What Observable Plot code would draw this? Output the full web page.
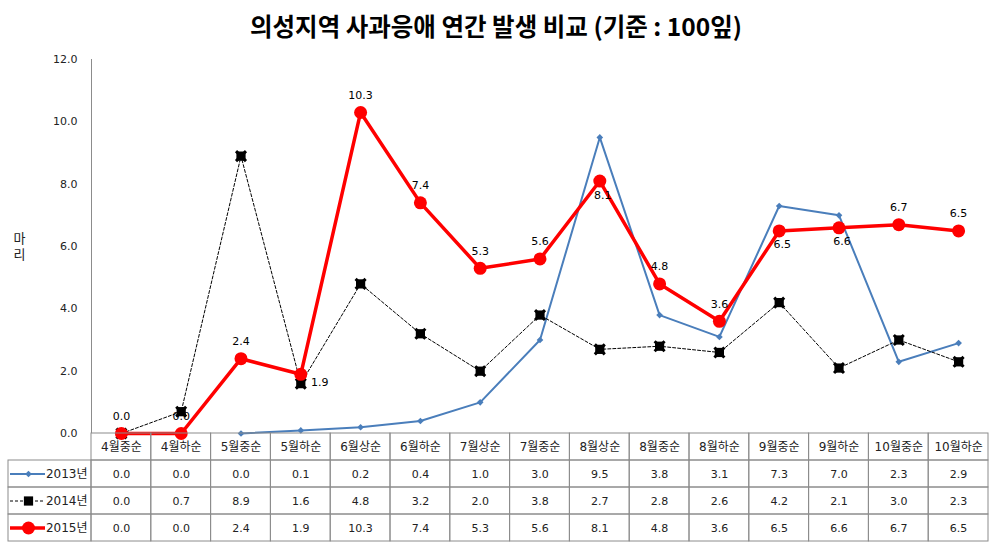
<!DOCTYPE html>
<html>
<head>
<meta charset="utf-8">
<script src="https://cdn.jsdelivr.net/npm/d3@7"></script>
<script src="https://cdn.jsdelivr.net/npm/@observablehq/plot@0.6"></script>
<style>
  html, body { margin: 0; padding: 0; background: #fff; }
  #wrap { position: relative; width: 992px; height: 545px; overflow: hidden; background: #fff; }
  #title { position: absolute; left: 0; top: 10px; width: 992px; text-align: center;
    font-family: "Noto Sans CJK KR", sans-serif; font-weight: bold; font-size: 24.5px; line-height: 32px; color: #000; }
  .layer { position: absolute; }
</style>
</head>
<body>
<div id="wrap">
  <div id="title">의성지역 사과응애 연간 발생 비교 (기준 : 100잎)</div>
</div>
<script>
// ---- data ----
const categories = ["4월중순","4월하순","5월중순","5월하순","6월상순","6월하순","7월상순","7월중순","8월상순","8월중순","8월하순","9월중순","9월하순","10월중순","10월하순"];
const seriesNames = ["2013년","2014년","2015년"];
const values2013 = [0.0,0.0,0.0,0.1,0.2,0.4,1.0,3.0,9.5,3.8,3.1,7.3,7.0,2.3,2.9];
const values2014 = [0.0,0.7,8.9,1.6,4.8,3.2,2.0,3.8,2.7,2.8,2.6,4.2,2.1,3.0,2.3];
const values2015 = [0.0,0.0,2.4,1.9,10.3,7.4,5.3,5.6,8.1,4.8,3.6,6.5,6.6,6.7,6.5];
const yTicks = [0, 2, 4, 6, 8, 10, 12];
const yLabelChars = ["마", "리"];
const start2013 = 2; // 2013 line is drawn from 5월중순

// ---- layout / style ----
const W = 992, H = 545;
const mL = 91, mR = 4, mT = 59, plotBottom = 433;
const tableTop = 432, tableH = 111;
const bw = (W - mL - mR) / categories.length;
const label2015Pos = ["above","above","above","right","above","above","above","above","below","above","above","below","below","above","above"];
const styles = {
  "2013년": {stroke: "#4A7EBB", strokeWidth: 2, dash: null, symbol: "diamond2", r: 3, fill: "#4A7EBB"},
  "2014년": {stroke: "#000", strokeWidth: 1, dash: "3,2", symbol: "square", r: 5.2, fill: "#000"},
  "2015년": {stroke: "#FF0000", strokeWidth: 3.5, dash: null, symbol: "circle", r: 6.5, fill: "#FF0000"}
};
const font = "'DejaVu Sans', 'Noto Sans CJK KR', sans-serif";

const valuesBySeries = {"2013년": values2013, "2014년": values2014, "2015년": values2015};
const rows = seriesNames.flatMap(s => valuesBySeries[s].map((v, i) => ({series: s, cat: categories[i], value: v, i})));
const rowsOf = s => rows.filter(d => d.series === s);

const wrap = document.getElementById("wrap");

// ---- chart ----
const s13 = rowsOf("2013년").filter(d => d.i >= start2013);
const s14 = rowsOf("2014년");
const s15 = rowsOf("2015년");
const st = styles;

const chart = Plot.plot({
  width: W, height: H,
  marginTop: mT, marginBottom: H - plotBottom, marginLeft: mL, marginRight: mR,
  style: {background: "transparent", fontFamily: font, fontSize: "11px", color: "#222", overflow: "visible"},
  x: {type: "band", domain: categories, padding: 0, round: false, axis: null},
  y: {domain: [0, 12], axis: null},
  marks: [
    Plot.axisY(yTicks, {tickSize: 0, tickPadding: 14, tickFormat: d3.format(".1f"), label: null, fontSize: 11, fill: "#222"}),
    Plot.ruleX([categories[0]], {x: d => d, dx: -bw / 2, y1: 0, y2: 12, stroke: "#8c8c8c", strokeWidth: 1}),
    Plot.text([yLabelChars[0]], {text: d => d, frameAnchor: "left", dx: -78, dy: -8, fontSize: 13, fontFamily: "'Noto Sans CJK KR', sans-serif", fill: "#222"}),
    Plot.text([yLabelChars[1]], {text: d => d, frameAnchor: "left", dx: -78, dy: 8, fontSize: 13, fontFamily: "'Noto Sans CJK KR', sans-serif", fill: "#222"}),
    // 2013
    Plot.line(s13, {x: "cat", y: "value", stroke: st["2013년"].stroke, strokeWidth: st["2013년"].strokeWidth}),
    Plot.dot(s13, {x: "cat", y: "value", symbol: st["2013년"].symbol, r: st["2013년"].r, fill: st["2013년"].fill}),
    // 2014
    Plot.line(s14, {x: "cat", y: "value", stroke: st["2014년"].stroke, strokeWidth: st["2014년"].strokeWidth, strokeDasharray: st["2014년"].dash}),
    Plot.dot(s14, {x: "cat", y: "value", symbol: "square", r: st["2014년"].r, fill: "#000"}),
    Plot.dot(s14, {x: "cat", y: "value", symbol: "times", r: 4.6, stroke: "#000", strokeWidth: 3}),
    // 2015
    Plot.line(s15, {x: "cat", y: "value", stroke: st["2015년"].stroke, strokeWidth: st["2015년"].strokeWidth}),
    Plot.dot(s15, {x: "cat", y: "value", symbol: "circle", r: st["2015년"].r, fill: st["2015년"].fill}),
    Plot.text(s15.filter(d => label2015Pos[d.i] === "above"), {x: "cat", y: "value", text: d => d.value.toFixed(1), dy: -17, fontSize: 11, fill: "#000"}),
    Plot.text(s15.filter(d => label2015Pos[d.i] === "below"), {x: "cat", y: "value", text: d => d.value.toFixed(1), dy: 14, dx: 3, fontSize: 11, fill: "#000"}),
    Plot.text(s15.filter(d => label2015Pos[d.i] === "right"), {x: "cat", y: "value", text: d => d.value.toFixed(1), dx: 19, dy: 8, fontSize: 11, fill: "#000"})
  ]
});
chart.classList.add("layer");
chart.style.left = "0px"; chart.style.top = "0px";
wrap.appendChild(chart);

// ---- data table ----
const rowKeys = ["header", ...seriesNames];
const cells = rowKeys.flatMap(r => categories.map(c => ({row: r, cat: c})));
const table = Plot.plot({
  width: W - mL, height: tableH,
  marginTop: 1, marginBottom: 2, marginLeft: 0, marginRight: mR,
  style: {background: "transparent", fontFamily: font, fontSize: "11px", color: "#222", overflow: "visible"},
  x: {type: "band", domain: categories, padding: 0, round: false, axis: null},
  y: {type: "band", domain: rowKeys, padding: 0, round: false, axis: null},
  marks: [
    Plot.cell(cells, {x: "cat", y: "row", fill: "none", stroke: "#8c8c8c", strokeWidth: 1, inset: 0}),
    Plot.text(categories, {x: d => d, y: () => "header", text: d => d, fontSize: 12, fill: "#222"}),
    Plot.text(rows, {x: "cat", y: "series", text: d => d.value.toFixed(1), fontSize: 11, fill: "#222"})
  ]
});
table.classList.add("layer");
table.style.left = mL + "px"; table.style.top = tableTop + "px";
wrap.appendChild(table);

// ---- legend column of the table ----
const legendMarks = [
  Plot.cell(seriesNames, {y: d => d, fill: "none", stroke: "#8c8c8c", strokeWidth: 1, inset: 0})
];
for (const s of seriesNames) {
  const o = styles[s];
  legendMarks.push(Plot.ruleY([s], {y: d => d, insetLeft: 2, insetRight: 46, stroke: o.stroke, strokeWidth: o.strokeWidth, strokeDasharray: o.dash}));
  legendMarks.push(Plot.dot([s], {y: d => d, frameAnchor: "left", dx: 20, symbol: o.symbol, r: o.r, fill: o.fill}));
}
legendMarks.push(Plot.text(seriesNames, {y: d => d, text: d => d, frameAnchor: "right", textAnchor: "end", dx: -4, fontSize: 12, fill: "#222"}));
const legend = Plot.plot({
  width: mL, height: tableH,
  marginTop: 1, marginBottom: 2, marginLeft: 8, marginRight: 0,
  style: {background: "transparent", fontFamily: font, fontSize: "11px", color: "#222", overflow: "visible"},
  y: {type: "band", domain: rowKeys, padding: 0, round: false, axis: null},
  marks: legendMarks
});
legend.classList.add("layer");
legend.style.left = "0px"; legend.style.top = tableTop + "px";
wrap.appendChild(legend);
</script>
</body>
</html>
